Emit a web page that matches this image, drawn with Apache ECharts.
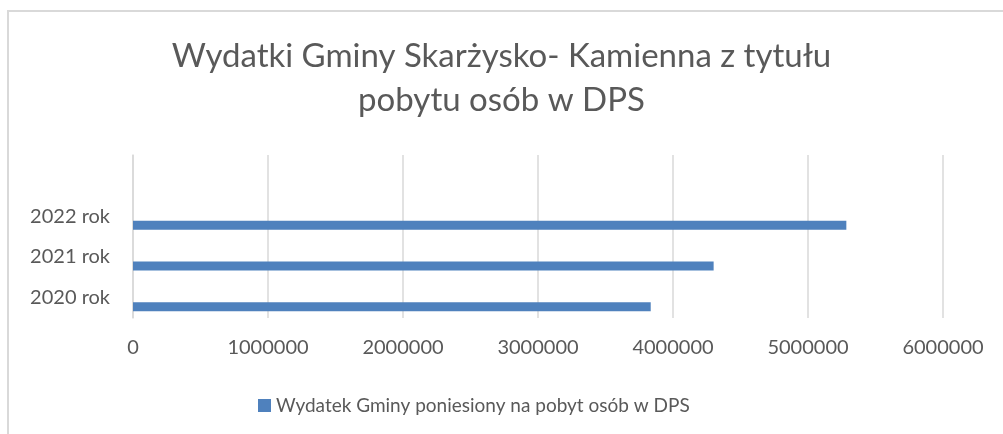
<!DOCTYPE html>
<html>
<head>
<meta charset="utf-8">
<script src="https://cdn.jsdelivr.net/npm/echarts@6/dist/echarts.min.js"></script>
<style>
  html, body { margin: 0; padding: 0; overflow: hidden; background: #fff; }
  #frame { position: absolute; left: 7px; top: 10px; width: 1100px; height: 600px;
           border-top: 2px solid #d9d9d9; border-left: 2px solid #d9d9d9; pointer-events: none; }
</style>
</head>
<body>
<div id="dps-container" style="width: 1003px; height: 434px;"></div>
<div id="frame"></div>
<script type="text/javascript">
// dane z wykresu
var years = ['2020 rok', '2021 rok', '2022 rok', ''];
var wydatki = [3835000, 4301000, 5284000, null];
var seriesName = 'Wydatek Gminy poniesiony na pobyt osób w DPS';
var xTicks = [0, 1000000, 2000000, 3000000, 4000000, 5000000, 6000000];

var dom = document.getElementById("dps-container");
var myChart = echarts.init(dom);
var font = 'Lato, "Open Sans", sans-serif';
var option = null;

option = {
    animation: false,
    title: {
        text: 'Wydatki Gminy Skarżysko- Kamienna z tytułu\npobytu osób w DPS',
        left: 'center',
        top: 34,
        padding: [0, 0, 0, 16],
        textStyle: {
            fontFamily: font,
            fontWeight: 'normal',
            fontSize: 33,
            lineHeight: 44,
            color: '#595959'
        }
    },
    legend: {
        data: [seriesName],
        left: 258,
        top: 396,
        padding: 0,
        icon: 'rect',
        itemWidth: 13,
        itemHeight: 13,
        itemGap: 5,
        textStyle: { fontFamily: font, fontSize: 19, color: '#595959' }
    },
    grid: {
        left: 133,
        right: 60,
        top: 155,
        bottom: 116
    },
    xAxis: {
        type: 'value',
        min: xTicks[0],
        max: xTicks[xTicks.length - 1],
        interval: 1000000,
        axisLine: { show: false },
        axisTick: { show: false },
        splitLine: { show: true, lineStyle: { color: '#d9d9d9', width: 1.5 } },
        axisLabel: {
            fontFamily: font, fontSize: 20, color: '#595959', margin: 20,
            formatter: function (v) { return String(v); }
        }
    },
    yAxis: {
        type: 'category',
        data: years,
        axisLine: { show: true, lineStyle: { color: '#d9d9d9', width: 1.5 } },
        axisTick: { show: false },
        axisLabel: { fontFamily: font, fontSize: 20, color: '#595959', margin: 23 }
    },
    series: [
        // puste serie - przesuwaja slupek w dol jak w excelu
        { name: 'a', type: 'bar', barWidth: 9, barGap: '0%', data: [] },
        { name: 'b', type: 'bar', barWidth: 9, barGap: '0%', data: [] },
        {
            name: seriesName,
            type: 'bar',
            barWidth: 9,
            barGap: '0%',
            itemStyle: { color: '#4f81bd' },
            data: wydatki
        }
    ]
};
if (option && typeof option === "object") {
    myChart.setOption(option, true);
}
</script>
</body>
</html>
